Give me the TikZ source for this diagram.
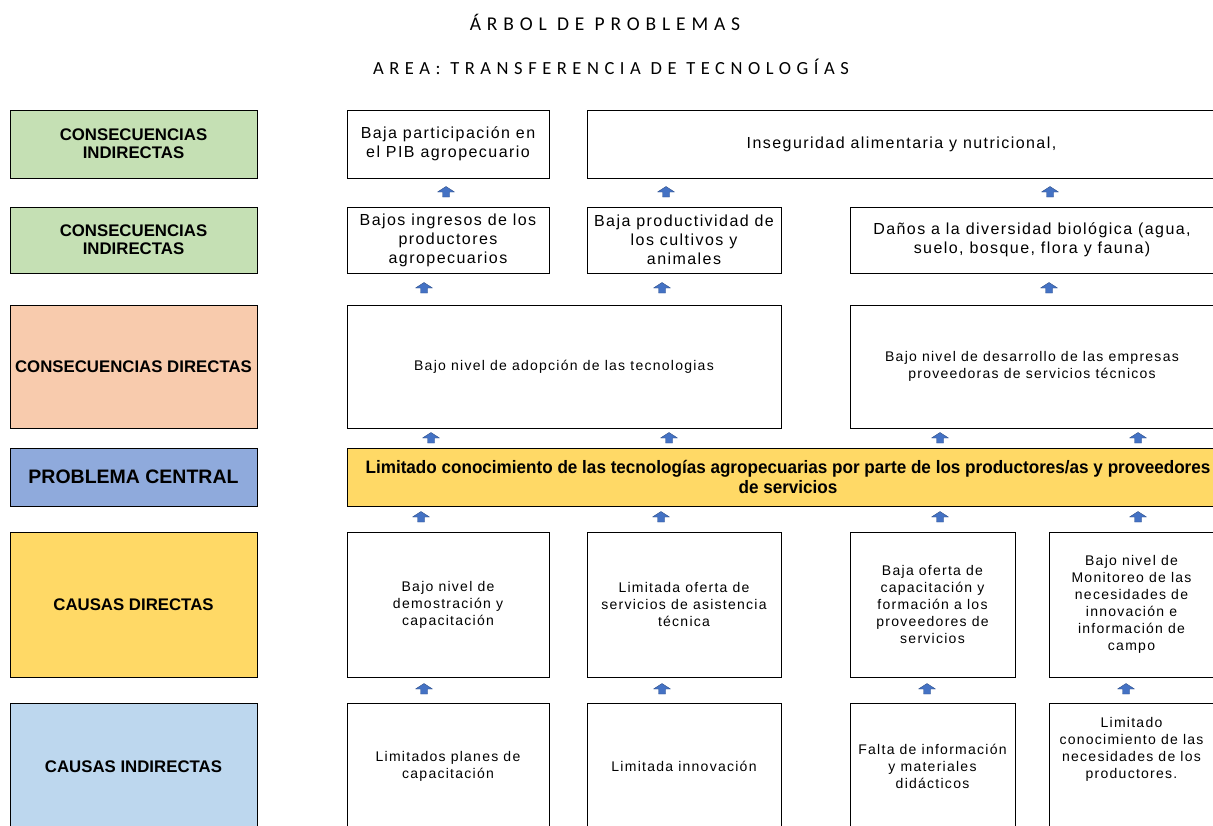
\documentclass[tikz,border=0pt]{standalone}
\usepackage{fontspec}
\setmainfont{Liberation Sans}
\newfontfamily\titlefont[LetterSpace=30]{Carlito}
\newfontfamily\boxfont[LetterSpace=9]{Liberation Sans}
\newfontfamily\narrowfont[FakeStretch=0.95]{Liberation Sans}
\usetikzlibrary{positioning}

\definecolor{verde}{RGB}{197,224,180}
\definecolor{naranja}{RGB}{248,203,173}
\definecolor{azul}{RGB}{143,170,220}
\definecolor{amarillo}{RGB}{255,217,102}
\definecolor{celeste}{RGB}{189,215,238}
\definecolor{flecha}{RGB}{68,114,196}

\tikzset{
    etiqueta/.style={draw, line width=1pt, minimum width=247pt, inner sep=2pt, align=center,
        font=\bfseries\fontsize{16.8}{18}\selectfont},
    caja/.style={draw, line width=1pt, fill=white, inner sep=2pt, align=center,
        font=\boxfont\fontsize{16}{19}\selectfont},
    chica/.style={caja, font=\boxfont\fontsize{14}{17}\selectfont},
    pics/flechita/.style={code={
        \draw[draw=flecha!70!black, fill=flecha, line width=0.4pt, line join=round]
            (-3.5,5) -- (-3.5,0) -- (-8.5,0) -- (0,-5.5) -- (8.5,0) -- (3.5,0) -- (3.5,5) -- cycle;
    }}
}

\begin{document}
\begin{tikzpicture}[x=1pt, y=-1pt]
        \useasboundingbox (0,0) rectangle (1213,825);

        % titulo
        \node[font=\titlefont\fontsize{19.5}{22}\selectfont] (titulo) at (605,22) {ÁRBOL DE PROBLEMAS};
        \node[font=\titlefont\fontsize{18.5}{22}\selectfont] (area) at (611,67) {AREA: TRANSFERENCIA DE TECNOLOGÍAS};

        % columna de niveles
        \node[etiqueta, fill=verde, minimum height=68pt] (ci1) at (133.5,144) {CONSECUENCIAS\\INDIRECTAS};
        \node[etiqueta, fill=verde, minimum height=66pt] (ci2) at (133.5,240) {CONSECUENCIAS\\INDIRECTAS};
        \node[etiqueta, fill=naranja, minimum height=123pt] (cd) at (133.5,366.5) {CONSECUENCIAS DIRECTAS};
        \node[etiqueta, fill=azul, minimum height=58pt, font=\bfseries\fontsize{19.5}{20}\selectfont] (pc) at (133.5,477) {PROBLEMA CENTRAL};
        \node[etiqueta, fill=amarillo, minimum height=145pt] (cad) at (133.5,604.5) {CAUSAS DIRECTAS};
        \node[etiqueta, fill=celeste, minimum height=127pt] (cai) at (133.5,766.5) {CAUSAS INDIRECTAS};

        % consecuencias indirectas
        \node[caja, minimum width=202pt, minimum height=68pt] (pib) at (448,144) {Baja participación en\\el PIB agropecuario};
        \node[caja, minimum width=629pt, minimum height=68pt] (ins) at (901.5,144) {Inseguridad alimentaria y nutricional,};
        \node[caja, minimum width=202pt, minimum height=66pt] (ing) at (448,240) {Bajos ingresos de los\\productores\\agropecuarios};
        \node[caja, minimum width=194pt, minimum height=66pt] (prod) at (684,240) {Baja productividad de\\los cultivos y\\animales};
        \node[caja, minimum width=364pt, minimum height=66pt] (bio) at (1032,240) {Daños a la diversidad biológica (agua,\\suelo, bosque, flora y fauna)};

        % consecuencias directas
        \node[chica, minimum width=434pt, minimum height=123pt] (adop) at (564,366.5) {Bajo nivel de adopción de las tecnologias};
        \node[chica, minimum width=364pt, minimum height=123pt] (emp) at (1032,366.5) {Bajo nivel de desarrollo de las empresas\\proveedoras de servicios técnicos};

        % problema central
        \node[caja, fill=amarillo, minimum width=882pt, minimum height=58pt,
            font=\narrowfont\bfseries\fontsize{18}{20}\selectfont] (central) at (788,477)
            {Limitado conocimiento de las tecnologías agropecuarias por parte de los productores/as y proveedores\\de servicios};

        % causas directas
        \node[chica, minimum width=202pt, minimum height=145pt] (dem) at (448,604.5) {Bajo nivel de\\demostración y\\capacitación};
        \node[chica, minimum width=194pt, minimum height=145pt] (asis) at (684,604.5) {Limitada oferta de\\servicios de asistencia\\técnica};
        \node[chica, minimum width=165pt, minimum height=145pt] (form) at (932.5,604.5) {Baja oferta de\\capacitación y\\formación a los\\proveedores de\\servicios};
        \node[chica, minimum width=165pt, minimum height=145pt] (mon) at (1131.5,604.5) {Bajo nivel de\\Monitoreo de las\\necesidades de\\innovación e\\información de\\campo};

        % causas indirectas
        \node[chica, minimum width=202pt, minimum height=127pt] (planes) at (448,766.5) {Limitados planes de\\capacitación};
        \node[chica, minimum width=194pt, minimum height=127pt] (innov) at (684,766.5) {Limitada innovación};
        \node[chica, minimum width=165pt, minimum height=127pt] (mat) at (932.5,766.5) {Falta de información\\y materiales\\didácticos};
        \node[chica, minimum width=165pt, minimum height=127pt, text depth=37pt] (nec) at (1131.5,766.5) {Limitado\\conocimiento de las\\necesidades de los\\productores.};

        % flechas
        \pic at (446,192) {flechita};
        \pic at (666,192) {flechita};
        \pic at (1050,192) {flechita};
        \pic at (424,288) {flechita};
        \pic at (662,288) {flechita};
        \pic at (1049,288) {flechita};
        \pic at (431,438) {flechita};
        \pic at (669,438) {flechita};
        \pic at (940,438) {flechita};
        \pic at (1138,438) {flechita};
        \pic at (421,517) {flechita};
        \pic at (661,517) {flechita};
        \pic at (940,517) {flechita};
        \pic at (1138,517) {flechita};
        \pic at (424,689) {flechita};
        \pic at (662,689) {flechita};
        \pic at (927,689) {flechita};
        \pic at (1126,689) {flechita};
    \end{tikzpicture}
\end{document}
